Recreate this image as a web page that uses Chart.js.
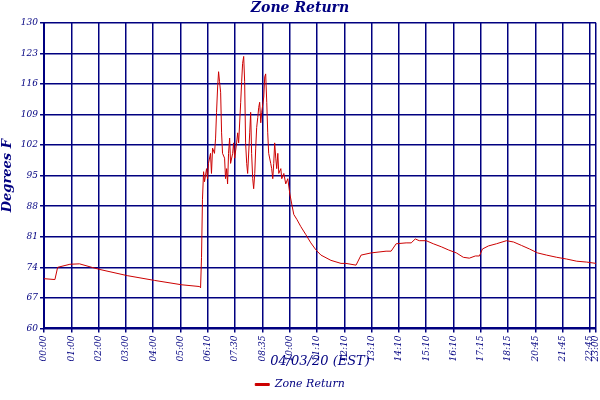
<!DOCTYPE html>
<html>
<head>
<meta charset="utf-8">
<script src="https://cdn.jsdelivr.net/npm/chart.js@4"></script>
<style>
  body { margin: 0; background: #fff; }
  #wrap { width: 600px; height: 400px; }
</style>
</head>
<body>
<div id="wrap"><canvas id="myChart" width="600" height="400"></canvas></div>
<script>
// x = sample index (20 samples per grid line), y = degrees F
const tickLabels = ['00:00','01:00','02:00','03:00','04:00','05:00','06:10','07:30','08:35','10:00',
  '11:10','12:10','13:10','14:10','15:10','16:10','17:15','18:15','20:45','21:45','22:45'];
const lastLabel = '23:00';

const sampleIdx = [
  0, 8, 10, 19, 26, 35, 41, 61, 81, 101,
  114, 114.7, 115.4, 116.1, 116.9, 117.6, 119.1, 119.8, 120.5, 122,
  122.7, 123.5, 124.9, 125.7, 126.4, 127.2, 127.9, 128.6, 129.4, 130.1,
  130.8, 132.3, 133, 133.8, 134.5, 135.2, 136, 136.7, 138.2, 138.9,
  139.7, 141.1, 141.9, 142.6, 144.1, 144.8, 145.5, 146.3, 147, 147.7,
  148.5, 149.2, 150.7, 151.4, 152.1, 152.9, 153.6, 154.4, 155.1, 155.8,
  156.6, 157.3, 158, 158.8, 159.5, 161, 161.7, 162.4, 163.2, 163.9,
  164.6, 166.1, 166.8, 167.6, 168.3, 169, 169.8, 170.5, 171.3, 172,
  173.5, 174.2, 175.7, 177.1, 178.6, 180.1, 181.5, 183, 185.2, 188.2,
  191.8, 195.5, 199.2, 202.9, 210.2, 217.6, 221.2, 228.6, 232.3, 239.6,
  250.6, 254.3, 258, 265.3, 269, 272, 274.9, 280, 285.2, 291.1,
  296.2, 302.1, 307.2, 311.6, 316, 319, 321.2, 325.6, 331.5, 338.8,
  344, 349.9, 355.7, 361.6, 368.2, 375.6, 382.9, 390.3, 397.6, 404.4];
const zoneReturn = [
  71.4, 71.2, 74, 74.7, 74.8, 74, 73.5, 72.1, 71, 70,
  69.6, 69.3, 76.3, 89.6, 95.9, 93.6, 96.6, 94.3, 97.8, 100.1,
  95.5, 101.3, 100.1, 103.6, 109.5, 115.3, 118.8, 116.5, 114.1, 104.8,
  100.1, 99, 94.3, 96.6, 93.1, 100.1, 103.6, 97.8, 100.1, 102.5,
  99, 102.5, 104.8, 102.5, 111.8, 116.5, 120.7, 122.3, 116.5, 102.5,
  97.8, 95.5, 104.8, 109.5, 100.1, 94.3, 92, 95.5, 101.3, 106,
  108.3, 110.6, 111.8, 107.1, 109.5, 113, 117.6, 118.3, 111.8, 104.8,
  100.1, 97.8, 96.6, 94.3, 97.8, 102.5, 99, 96.6, 100.1, 95.5,
  96.6, 94.3, 95.5, 93.1, 94.3, 90.8, 88.5, 86.1, 85, 83.3,
  81.5, 79.6, 78, 76.8, 75.6, 74.9, 74.9, 74.5, 76.8, 77.3,
  77.7, 77.7, 79.4, 79.6, 79.6, 80.5, 80.1, 80.1, 79.4, 78.7,
  78, 77.3, 76.3, 76.1, 76.6, 76.6, 78.2, 78.9, 79.4, 80.1,
  79.8, 79, 78.2, 77.3, 76.8, 76.3, 75.9, 75.4, 75.2, 74.9];
const yTicks = [60, 67, 74, 81, 88, 95, 102, 109, 116, 123, 130];

const navy = '#000080';
const font = { family: 'DejaVu Serif', style: 'italic', size: 9 };

new Chart(document.getElementById('myChart'), {
  type: 'line',
  data: {
    datasets: [{
      label: 'Zone Return',
      data: sampleIdx.map((x, i) => ({ x: x, y: zoneReturn[i] })),
      borderColor: '#cc0000',
      backgroundColor: '#cc0000',
      borderWidth: 1,
      pointRadius: 0,
      tension: 0
    }]
  },
  options: {
    responsive: false,
    animation: false,
    layout: { padding: { left: 0, right: 0, top: 0, bottom: 0 } },
    plugins: {
      title: { display: true, text: 'Zone Return', color: navy,
        font: { family: 'DejaVu Serif', style: 'italic', weight: 'bold', size: 14 }, padding: { top: 0, bottom: 6 } },
      legend: { position: 'bottom', labels: { color: navy, boxWidth: 14, boxHeight: 2,
        font: { family: 'DejaVu Serif', style: 'italic', size: 11 } } },
      tooltip: { enabled: false }
    },
    scales: {
      x: {
        type: 'linear', min: 0, max: 404.4,
        afterBuildTicks: s => { s.ticks = tickLabels.map((_, i) => ({ value: i * 20 })).concat([{ value: 404.4 }]); },
        afterFit: s => { s.paddingRight = 4; s.height -= 11; },
        ticks: { color: navy, font: font, minRotation: 90, maxRotation: 90, autoSkip: false,
          callback: v => v === 404.4 ? lastLabel : tickLabels[Math.round(v / 20)] },
        grid: { color: navy, lineWidth: 1.5, tickLength: 4 },
        border: { color: navy, width: 2 },
        title: { display: true, text: '04/03/20 (EST)', color: navy,
          font: { family: 'DejaVu Serif', style: 'italic', size: 13 }, padding: { top: 0, bottom: 0 } }
      },
      y: {
        min: 60, max: 130,
        afterBuildTicks: s => { s.ticks = yTicks.map(v => ({ value: v })); },
        afterFit: s => { s.width = 44; },
        ticks: { color: navy, font: font, padding: 2 },
        grid: { color: navy, lineWidth: 1.5, tickLength: 4 },
        border: { color: navy, width: 2 },
        title: { display: true, text: 'Degrees F', color: navy,
          font: { family: 'DejaVu Serif', style: 'italic', weight: 'bold', size: 13 }, padding: 0 }
      }
    }
  }
});
</script>
</body>
</html>
